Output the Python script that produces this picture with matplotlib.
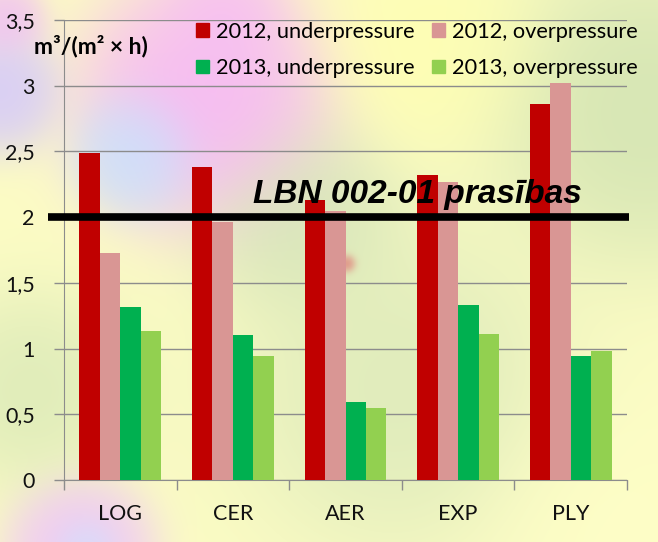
import numpy as np
import matplotlib
matplotlib.use("Agg")
import matplotlib.pyplot as plt
from matplotlib.patches import Patch

# ---- data ----
categories = ["LOG", "CER", "AER", "EXP", "PLY"]
series_names = ["2012, underpressure", "2012, overpressure",
                "2013, underpressure", "2013, overpressure"]
u2012 = [2.49, 2.38, 2.13, 2.32, 2.86]
o2012 = [1.73, 1.96, 2.05, 2.27, 3.02]
u2013 = [1.32, 1.10, 0.59, 1.33, 0.94]
o2013 = [1.13, 0.94, 0.55, 1.11, 0.98]
limit_value = 2.0
limit_label = "LBN 002-01 prasības"
yticks = [0, 0.5, 1, 1.5, 2, 2.5, 3, 3.5]
ytick_labels = ["0", "0,5", "1", "1,5", "2", "2,5", "3", "3,5"]
colors = ["#C00000", "#D99694", "#00B050", "#92D050"]

W, H = 658, 542
fig = plt.figure(figsize=(W / 100, H / 100), dpi=100)

# ---- blurred colourful background ----
yy, xx = np.mgrid[0:H, 0:W].astype(float)
base = np.array([252, 252, 196], float)
blobs = [  # x, y, sigma, weight, rgb
    (205, 100, 60, 6.0, (246, 180, 248)),
    (140, 150, 30, 7.0, (196, 228, 255)),
    (225, 15, 30, 3.0, (246, 186, 246)),
    (0, 90, 30, 5.0, (212, 200, 252)),
    (5, 20, 20, 4.0, (240, 190, 245)),
    (300, 215, 55, 2.5, (206, 225, 183)),
    (645, 110, 80, 3.0, (204, 224, 176)),
    (400, 390, 90, 1.8, (210, 228, 184)),
    (30, 390, 55, 2.0, (212, 230, 182)),
    (430, 45, 60, 2.5, (255, 255, 175)),
    (80, 550, 35, 6.0, (238, 196, 250)),
    (85, 550, 16, 6.0, (200, 232, 255)),
    (600, 520, 70, 1.5, (255, 255, 200)),
    (346, 263, 5, 3.0, (225, 90, 100)),
]
num = base[None, None, :] * 1.0
den = np.ones((H, W, 1))
for bx, by, s, a, c in blobs:
    w = a * np.exp(-((xx - bx) ** 2 + (yy - by) ** 2) / (2 * s * s))[..., None]
    num = num + w * np.array(c, float)
    den = den + w
bg = (num / den) / 255.0
bax = fig.add_axes([0, 0, 1, 1], zorder=-10)
bax.imshow(bg, aspect="auto", extent=[0, 1, 0, 1])
bax.axis("off")

# ---- chart ----
ax = fig.add_axes([64 / W, 1 - 480 / H, (627 - 64) / W, (480 - 20) / H])
ax.set_facecolor("none")
x = np.arange(len(categories))
bw = 0.182
for i, vals in enumerate([u2012, o2012, u2013, o2013]):
    ax.bar(x + (i - 1.5) * bw, vals, bw, color=colors[i], zorder=3)

ax.set_xlim(-0.5, len(categories) - 0.5)
ax.set_ylim(0, 3.5)
ax.set_yticks(yticks)
ax.set_yticklabels(ytick_labels)
ax.set_xticks(x)
ax.set_xticklabels(categories)
ax.set_xticks(np.arange(len(categories) + 1) - 0.5, minor=True)
ax.tick_params(axis="x", which="major", length=0, pad=17)
ax.tick_params(axis="x", which="minor", length=7, color="#8c8c8c", width=1)
ax.tick_params(axis="y", length=7, color="#8c8c8c", width=1, pad=14)
for lab in ax.get_xticklabels() + ax.get_yticklabels():
    lab.set_fontfamily("Lato")
    lab.set_fontsize(15.5)
    lab.set_color("#111111")
ax.grid(axis="y", color="#8c8c8c", lw=1, zorder=1)
for s in ["top", "right"]:
    ax.spines[s].set_visible(False)
for s in ["left", "bottom"]:
    ax.spines[s].set_color("#8c8c8c")

# limit line and its label
ax.plot([-0.642, 4.518], [limit_value, limit_value], color="black", lw=5.5,
        solid_capstyle="butt", clip_on=False, zorder=5)
ax.text(2.64, 2.108, limit_label, ha="center", va="baseline",
        fontsize=24, fontweight="bold", fontstyle="italic",
        family="Liberation Sans", zorder=6)

# unit label
fig.text(34 / W, 1 - 46 / H, "m³/(m² × h)", ha="left", va="center",
         fontsize=16.5, fontweight="bold", family="Lato")

# legend
handles = [Patch(color=c) for c in colors]
order = [0, 2, 1, 3]
leg = ax.legend([handles[i] for i in order], [series_names[i] for i in order],
                ncol=2, loc="upper left", bbox_to_anchor=(196 / W, 1 - 22 / H),
                bbox_transform=fig.transFigure, frameon=False,
                prop={"family": "Lato", "size": 15.7},
                handlelength=0.6, handleheight=0.6, handletextpad=0.32,
                columnspacing=0.8, labelspacing=0.74, borderpad=0,
                borderaxespad=0)

fig.savefig("out.png", dpi=100)
